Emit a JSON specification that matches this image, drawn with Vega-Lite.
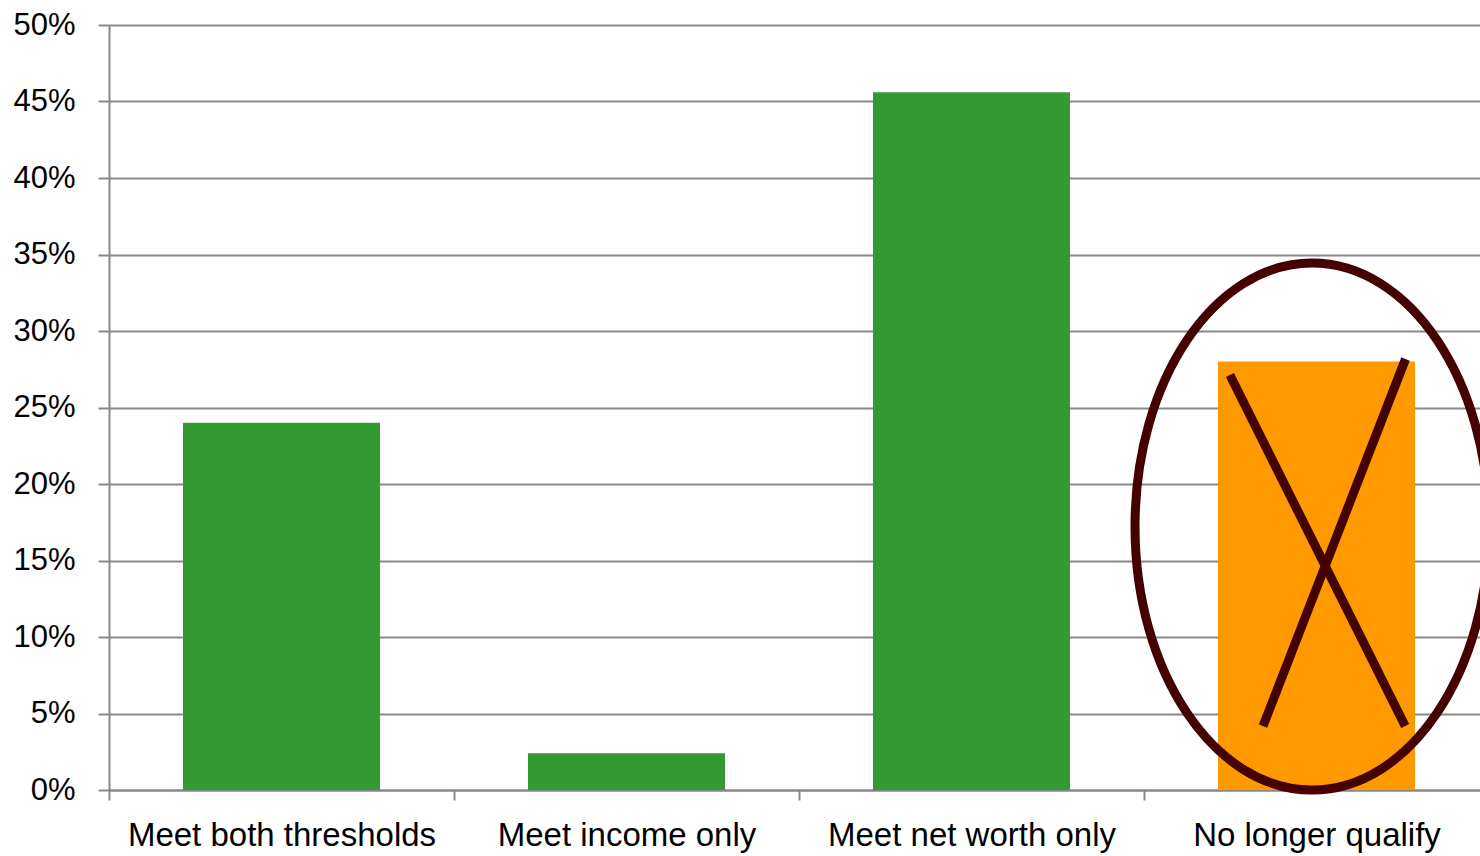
{
  "$schema": "https://vega.github.io/schema/vega-lite/v6.json",
  "width": 1371,
  "height": 765,
  "autosize": "none",
  "padding": {"left": 109, "top": 25, "right": 0, "bottom": 66},
  "background": "white",
  "config": {
    "view": {"stroke": null},
    "font": "Liberation Sans, Arial, sans-serif",
    "axis": {
      "title": null,
      "domainColor": "#888888",
      "domainWidth": 2,
      "tickColor": "#888888",
      "tickWidth": 2,
      "gridColor": "#888888",
      "gridWidth": 2,
      "labelColor": "#000000",
      "labelLimit": 0,
      "labelFont": "Liberation Sans, Arial, sans-serif"
    }
  },
  "datasets": {
    "shares": [
      {"category": "Meet both thresholds", "share": 0.24},
      {"category": "Meet income only", "share": 0.024},
      {"category": "Meet net worth only", "share": 0.456},
      {"category": "No longer qualify", "share": 0.28}
    ],
    "ring": [
      {"x": 3.487, "y": 0.1722}
    ],
    "strikes": [
      {"x": 3.249, "y": 0.2712, "x2": 3.757, "y2": 0.0418},
      {"x": 3.758, "y": 0.2817, "x2": 3.345, "y2": 0.0418}
    ]
  },
  "layer": [
    {
      "data": {"name": "shares"},
      "mark": {"type": "bar", "width": {"band": 0.571}},
      "encoding": {
        "x": {
          "field": "category",
          "type": "nominal",
          "sort": null,
          "scale": {"range": [0, 1380], "paddingInner": 0, "paddingOuter": 0},
          "axis": {
            "labelAngle": 0,
            "labelFontSize": 33,
            "labelPadding": 19,
            "tickSize": 10,
            "tickBand": "extent",
            "grid": false
          }
        },
        "y": {
          "field": "share",
          "type": "quantitative",
          "scale": {"domain": [0, 0.5]},
          "axis": {
            "values": [0, 0.05, 0.1, 0.15, 0.2, 0.25, 0.3, 0.35, 0.4, 0.45, 0.5],
            "format": ".0%",
            "labelFontSize": 31,
            "labelPadding": 23,
            "tickSize": 11,
            "grid": true
          }
        },
        "color": {
          "field": "category",
          "type": "nominal",
          "sort": null,
          "scale": {
            "domain": ["Meet both thresholds", "Meet income only", "Meet net worth only", "No longer qualify"],
            "range": ["#339933", "#339933", "#339933", "#FF9900"]
          },
          "legend": null
        }
      }
    },
    {
      "data": {"name": "strikes"},
      "mark": {"type": "rule", "stroke": "#450000", "strokeWidth": 9, "strokeCap": "butt"},
      "encoding": {
        "x": {"field": "x", "type": "quantitative", "scale": {"domain": [0, 4], "range": [0, 1380]}, "axis": null},
        "x2": {"field": "x2"},
        "y": {"field": "y", "type": "quantitative", "title": null},
        "y2": {"field": "y2"}
      }
    },
    {
      "data": {"name": "ring"},
      "mark": {
        "type": "point",
        "shape": "M -0.6717 0 A 0.6717 1 0 1 0 0.6717 0 A 0.6717 1 0 1 0 -0.6717 0 Z",
        "size": 277729,
        "filled": false,
        "stroke": "#450000",
        "strokeWidth": 9,
        "opacity": 1
      },
      "encoding": {
        "x": {"field": "x", "type": "quantitative", "scale": {"domain": [0, 4], "range": [0, 1380]}, "axis": null},
        "y": {"field": "y", "type": "quantitative", "title": null}
      }
    }
  ],
  "resolve": {"scale": {"x": "independent"}}
}
